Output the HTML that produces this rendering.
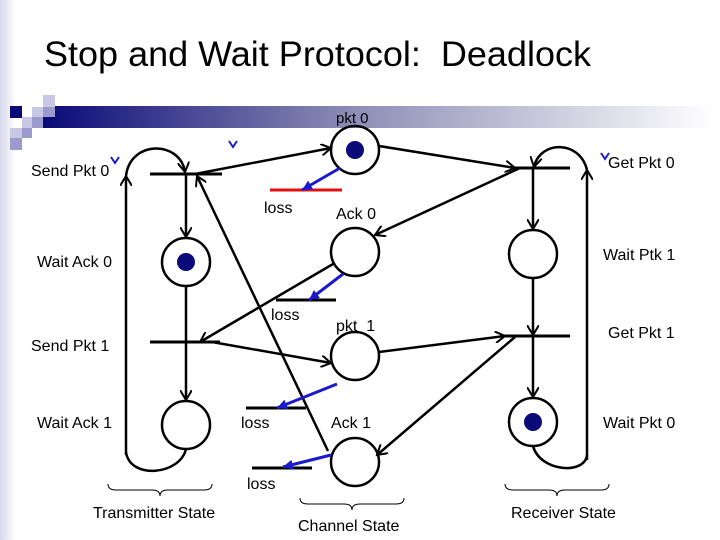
<!DOCTYPE html>
<html><head><meta charset="utf-8"><style>
body{margin:0;background:#fff}
svg{display:block}
text{font-family:"Liberation Sans",sans-serif;fill:#000}
</style></head><body>
<svg width="720" height="540" viewBox="0 0 720 540" xmlns="http://www.w3.org/2000/svg">
<defs>
<linearGradient id="bar" x1="0" x2="1" y1="0" y2="0">
<stop offset="0" stop-color="#0a0a78"/><stop offset="0.45" stop-color="#8a8ab4"/><stop offset="1" stop-color="#ffffff"/>
</linearGradient>
<linearGradient id="edge" x1="0" x2="1"><stop offset="0" stop-color="#d8d8ec"/><stop offset="1" stop-color="#fff"/></linearGradient>
<marker id="a" markerWidth="12" markerHeight="12" refX="10" refY="6" orient="auto" markerUnits="userSpaceOnUse"><path d="M0,0 L10,6 L0,12" fill="none" stroke="#000" stroke-width="2"/></marker>
<marker id="b" markerWidth="12" markerHeight="12" refX="10" refY="6" orient="auto" markerUnits="userSpaceOnUse"><path d="M0,1 L10,6 L0,11 Z" fill="#1a1acc"/></marker>
</defs>
<rect x="0" y="0" width="16" height="540" fill="url(#edge)"/>
<text x="44" y="66" font-size="35" style="white-space:pre" textLength="547" lengthAdjust="spacingAndGlyphs">Stop and Wait Protocol:  Deadlock</text>
<rect x="43" y="106" width="670" height="22" fill="url(#bar)"/>
<rect x="10" y="106" width="12" height="12" fill="#0a0a78"/>
<rect x="43" y="95" width="12" height="12" fill="#c8c8e4"/>
<rect x="32" y="107" width="11" height="10" fill="#c8c8e4"/>
<rect x="43" y="107" width="12" height="10" fill="#9a9acc"/>
<rect x="22" y="117" width="10" height="11" fill="#c8c8e4"/>
<rect x="32" y="117" width="11" height="11" fill="#9a9acc"/>
<rect x="10" y="128" width="12" height="10" fill="#c8c8e4"/>
<rect x="22" y="128" width="10" height="10" fill="#9a9acc"/>
<rect x="10" y="138" width="12" height="12" fill="#9a9acc"/>
<text x="336" y="123" font-size="15">pkt 0</text>

<g stroke="#000" stroke-width="3" fill="none">
<line x1="150" y1="174" x2="222" y2="174"/>
<line x1="515" y1="168" x2="570" y2="168"/>
<line x1="150" y1="342" x2="220" y2="342"/>
<line x1="500" y1="336" x2="570" y2="336"/>
<line x1="276" y1="300" x2="336" y2="300"/>
<line x1="246" y1="408" x2="306" y2="408"/>
<line x1="252" y1="468" x2="312" y2="468"/>
</g>
<line x1="270" y1="190" x2="342" y2="190" stroke="#e01010" stroke-width="3"/>

<g stroke="#000" stroke-width="2.5" fill="none">
<circle cx="355" cy="150" r="24"/>
<circle cx="355" cy="252" r="24"/>
<circle cx="186" cy="262" r="24"/>
<circle cx="355" cy="356" r="24"/>
<circle cx="355" cy="462" r="24"/>
<circle cx="186" cy="425" r="24"/>
<circle cx="533" cy="254" r="24"/>
<circle cx="533" cy="422" r="24"/>
</g>
<g fill="#0a0a78">
<circle cx="355" cy="150" r="9"/><circle cx="186" cy="262" r="9"/><circle cx="533" cy="422" r="9"/>
</g>

<g stroke="#000" stroke-width="2.5" fill="none" marker-end="url(#a)">
<line x1="186" y1="174" x2="186" y2="237"/>
<line x1="186" y1="342" x2="186" y2="400"/>
<line x1="533" y1="168" x2="533" y2="229"/>
<line x1="533" y1="278" x2="533" y2="335"/>
<line x1="533" y1="336" x2="533" y2="397"/>
<line x1="195" y1="174" x2="331" y2="148"/>
<line x1="379" y1="146" x2="515" y2="168"/>
<line x1="520" y1="168" x2="375" y2="235"/>
<line x1="333" y1="264" x2="200" y2="342"/>
<line x1="212" y1="342" x2="331" y2="363"/>
<line x1="379" y1="352" x2="505" y2="336"/>
<line x1="515" y1="337" x2="377" y2="455"/>
<line x1="328" y1="451" x2="197" y2="176"/>
<path d="M126,455 L126,176"/>
<path d="M126,176 C130,140 180,140 185,172"/>
<path d="M587,460 L587,170"/>
<path d="M587,170 C580,140 540,140 534,167"/>
</g>
<g stroke="#000" stroke-width="2.5" fill="none">
<line x1="186" y1="286" x2="186" y2="342"/>
<path d="M186,449 C180,475 130,480 126,452"/>
<path d="M533,446 C540,472 585,475 587,455"/>
</g>
<g stroke="#1a1acc" stroke-width="3" marker-end="url(#b)">
<line x1="340" y1="168" x2="302" y2="190"/>
<line x1="343" y1="274" x2="309" y2="300"/>
<line x1="337" y1="384" x2="277" y2="408"/>
<line x1="331" y1="455" x2="283" y2="467"/>
</g>
<g fill="none" stroke="#000" stroke-width="1">
<path d="M108,484 q0,6 8,6 h36 q8,0 8,6 q0,-6 8,-6 h36 q8,0 8,-6"/>
<path d="M300,498 q0,6 8,6 h36 q8,0 8,6 q0,-6 8,-6 h36 q8,0 8,-6"/>
<path d="M505,484 q0,6 8,6 h36 q8,0 8,6 q0,-6 8,-6 h36 q8,0 8,-6"/>
</g>
<g fill="none" stroke="#1a1acc" stroke-width="2">
<path d="M111,157 l4,6 l4,-6"/>
<path d="M229,141 l4,6 l4,-6"/>
<path d="M601,153 l4,6 l4,-6"/>
</g>
<g font-size="16">
<text x="31" y="176">Send Pkt 0</text>
<text x="608" y="168">Get Pkt 0</text>
<text x="264" y="213">loss</text>
<text x="336" y="219">Ack 0</text>
<text x="37" y="267">Wait Ack 0</text>
<text x="603" y="260">Wait Ptk 1</text>
<text x="271" y="320">loss</text>
<text x="336" y="331" style="white-space:pre">pkt  1</text>
<text x="31" y="351">Send Pkt 1</text>
<text x="608" y="338">Get Pkt 1</text>
<text x="37" y="428">Wait Ack 1</text>
<text x="241" y="428">loss</text>
<text x="331" y="428">Ack 1</text>
<text x="603" y="428">Wait Pkt 0</text>
<text x="247" y="489">loss</text>
<text x="93" y="518">Transmitter State</text>
<text x="298" y="531">Channel State</text>
<text x="511" y="518">Receiver State</text>
</g>
</svg>
</body></html>
